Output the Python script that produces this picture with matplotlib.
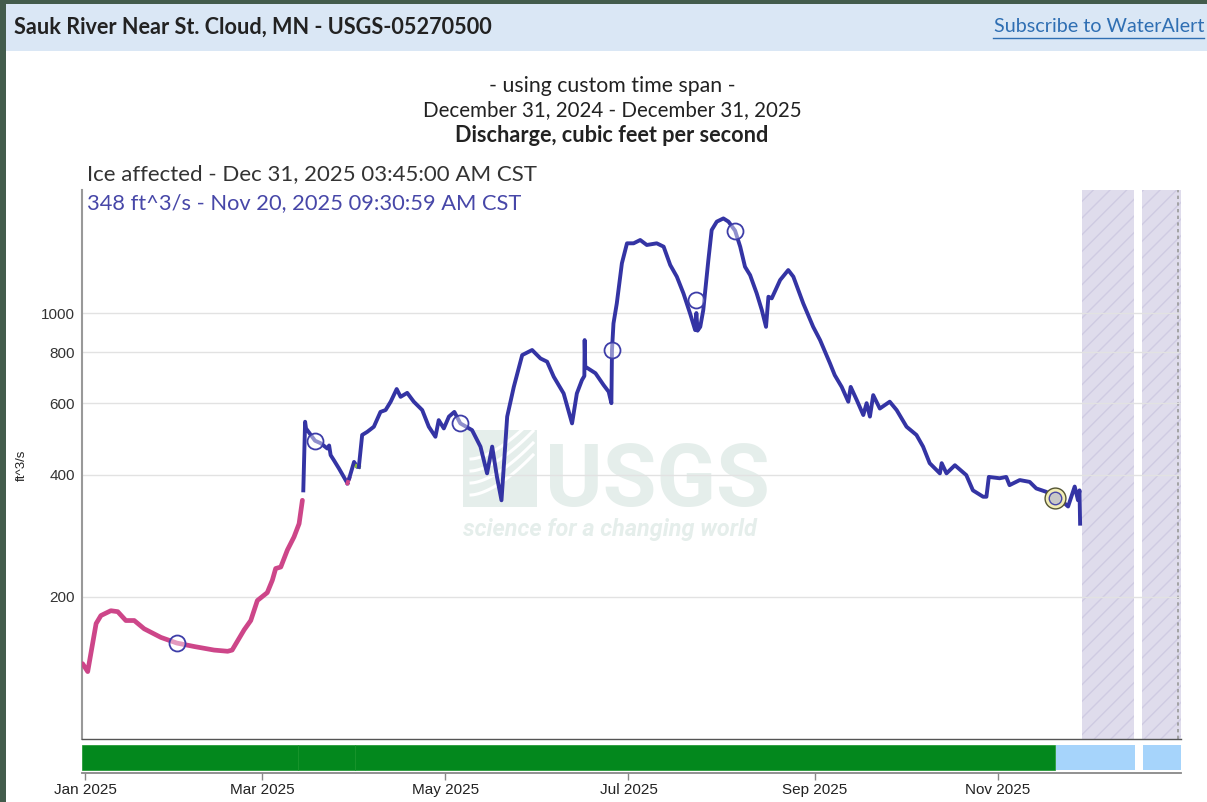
import numpy as np
import pandas as pd
import matplotlib
matplotlib.use("Agg")
import matplotlib.pyplot as plt
from matplotlib import font_manager
from matplotlib.patches import Rectangle
from matplotlib.lines import Line2D
from matplotlib.ticker import FixedLocator, NullLocator, FuncFormatter

# ---- data (days since 2025-01-01, discharge in ft^3/s) ----
ice_day = [-0.8, 0.9, 3.7, 5.3, 8.6, 10.9, 13.6, 16.4, 19.7, 25.3, 30.6, 36.4, 43.0,
           47.5, 49.0, 53.0, 55.2, 57.4, 60.7, 62.4, 63.5, 65.2, 67.4, 69.6, 71.3, 72.4]
ice_cfs = [137, 131, 172, 180, 185, 184, 175, 175, 167, 159, 154, 151, 148,
           147, 148, 166, 175, 196, 205, 220, 235, 237, 261, 281, 303, 346]

flow_day_a = [72.7, 73.3, 73.6, 76.6, 78.5, 80.7, 81.3, 81.8, 82.9, 84.6, 87.4]
flow_cfs_a = [366, 540, 520, 485, 478, 464, 472, 447, 434, 414, 381]

ice2_day = [87.4, 88.0]
ice2_cfs = [381, 392]

flow_day_b = [88.0, 89.6, 90.5]
flow_cfs_b = [392, 430, 420]

est_day = [90.5, 91.2]
est_cfs = [420, 418]

flow_day_c = [91.2, 92.3, 94.0, 96.2, 98.4, 100.1, 101.8, 103.8, 105.1, 107.3, 109.5,
              112.3, 114.5, 116.7, 117.8, 119.5, 121.2, 123.0, 125.0, 128.9, 131.7,
              133.9, 135.6, 137.2, 138.7, 140.6, 142.8, 145.6, 148.9, 151.7, 153.9,
              156.1, 159.4, 162.2, 163.8, 165.5, 166.3, 166.4, 166.6, 170.0, 172.7,
              174.4, 175.3, 175.5, 176.0, 177.1, 178.8, 180.5, 182.7, 184.9, 187.1,
              190.4, 192.7, 194.9, 197.1, 199.3, 201.5, 203.2, 203.6, 204.0, 204.9,
              205.9, 207.6, 208.7, 210.4, 212.6, 214.3, 216.5, 218.2, 219.8, 221.5,
              223.7, 225.4, 226.8, 227.6, 228.7, 231.5, 234.2, 235.9, 239.2, 242.5,
              244.8, 248.1, 249.7, 252.0, 254.2, 255.0, 257.0, 259.2, 260.3, 261.4,
              262.5, 264.7, 268.0, 270.3, 273.6, 276.9, 279.1, 281.3, 284.7, 285.3,
              286.9, 289.7, 293.5, 295.7, 299.1, 300.2, 301.0, 304.6, 306.8, 307.9,
              311.3, 314.6, 316.8, 320.1, 322.9, 325.1, 327.4, 329.6, 330.7, 331.2,
              331.4]
flow_cfs_c = [418, 501, 510, 525, 571, 577, 605, 650, 622, 636, 605,
              577, 525, 496, 545, 520, 556, 571, 535, 515, 469,
              403, 469, 395, 346, 556, 658, 788, 811, 773, 759,
              697, 634, 535, 634, 684, 700, 858, 738, 711, 665,
              640, 600, 811, 943, 1056, 1326, 1485, 1485, 1513, 1471,
              1485, 1457, 1313, 1229, 1118, 998, 908, 1000, 905, 925,
              1017, 1351, 1601, 1679, 1710, 1679, 1595, 1457, 1300, 1240,
              1118, 1017, 925, 1097, 1087, 1206, 1276, 1229, 1056, 925,
              858, 752, 703, 658, 605, 658, 611, 561, 600, 556,
              628, 582, 605, 577, 525, 501, 469, 427, 403, 427,
              403, 422, 399, 366, 353, 353, 395, 392, 395, 377,
              388, 384, 370, 363, 350, 346, 334, 374, 346, 366,
              303]

marker_day = [30.6, 76.6, 125.0, 175.5, 203.4, 216.5]
marker_cfs = [154, 485, 535, 811, 1076, 1595]
latest_day = [322.9]
latest_cfs = [350]

# periods (start, end) for shading and the status bar
no_data_spans = [("2025-11-28 22:00", "2025-12-16 12:00"), ("2025-12-19 00:00", "2026-01-01 00:00")]
approved_spans = [("2024-12-31", "2025-03-13"), ("2025-03-13", "2025-04-01"), ("2025-04-01", "2025-11-20")]
provisional_spans = [("2025-11-20 12:00", "2025-12-16 16:00"), ("2025-12-19 06:00", "2026-01-01 00:00")]
month_ticks = ["2025-01-01", "2025-03-01", "2025-05-01", "2025-07-01", "2025-09-01", "2025-11-01"]
month_labels = ["Jan 2025", "Mar 2025", "May 2025", "Jul 2025", "Sep 2025", "Nov 2025"]
y_ticks = [200, 400, 600, 800, 1000]

base = pd.Timestamp("2025-01-01")
def to_dates(days):
    return base + pd.to_timedelta(np.array(days), unit="D")

W, H = 1207, 802
def fx(px):
    return px / W
def fy(py):
    return 1 - py / H

names = {f.name for f in font_manager.fontManager.ttflist}
ui_font = "Lato" if "Lato" in names else "DejaVu Sans"
ax_font = "Liberation Sans" if "Liberation Sans" in names else "DejaVu Sans"
wm_font = next((n for n in ["Liberation Sans Narrow", "DejaVu Sans Condensed", "Roboto"] if n in names), "DejaVu Sans")

BLUE = "#3434a4"
PINK = "#cd4689"

fig = plt.figure(figsize=(W / 100, H / 100), dpi=100, facecolor="#435c4c")
fig.patches.append(Rectangle((fx(6), 0), 1 - fx(6), fy(4), transform=fig.transFigure,
                             facecolor="white", edgecolor="none", zorder=-10))
fig.patches.append(Rectangle((fx(6), fy(51)), 1 - fx(6), (51 - 4) / H, transform=fig.transFigure,
                             facecolor="#dae7f5", edgecolor="none", zorder=-9))

fig.text(fx(14), fy(27), "Sauk River Near St. Cloud, MN - USGS-05270500", family=ui_font,
         fontsize=15.6, fontweight="bold", color="#222222", ha="left", va="center")
fig.text(fx(1204), fy(27), "Subscribe to WaterAlert", family=ui_font, fontsize=14.2,
         color="#2f6fb3", ha="right", va="center")
fig.add_artist(Line2D([fx(993), fx(1204)], [fy(38), fy(38)], color="#2f6fb3", lw=1))

fig.text(fx(612), fy(86), "- using custom time span -", family=ui_font, fontsize=15.3,
         color="#222222", ha="center", va="center")
fig.text(fx(612), fy(110), "December 31, 2024 - December 31, 2025", family=ui_font, fontsize=14.8,
         color="#222222", ha="center", va="center")
fig.text(fx(612), fy(136), "Discharge, cubic feet per second", family=ui_font, fontsize=15.6,
         fontweight="bold", color="#222222", ha="center", va="center")
fig.text(fx(87), fy(174), "Ice affected - Dec 31, 2025 03:45:00 AM CST", family=ui_font,
         fontsize=16.0, color="#333333", ha="left", va="center")
fig.text(fx(87), fy(203), "348 ft^3/s - Nov 20, 2025 09:30:59 AM CST", family=ui_font,
         fontsize=15.75, color="#4747a8", ha="left", va="center")
fig.text(fx(22), fy(465), "ft^3/s", family=ax_font, fontsize=9.5, color="#222222",
         rotation=90, ha="center", va="center")

# ---- main axes ----
xmin, xmax = pd.Timestamp("2024-12-31"), pd.Timestamp("2026-01-01")
ax = fig.add_axes([fx(82), fy(739), (1181 - 82) / W, (739 - 190) / H])
ax.set_yscale("log")
ax.set_ylim(89.4, 2009)
ax.set_xlim(xmin, xmax)
ax.yaxis.set_major_locator(FixedLocator(y_ticks))
ax.yaxis.set_minor_locator(NullLocator())
ax.yaxis.set_major_formatter(FuncFormatter(lambda v, p: f"{v:.0f}"))
ax.xaxis.set_major_locator(NullLocator())
ax.xaxis.set_minor_locator(NullLocator())
ax.tick_params(axis="y", length=0, pad=5, labelsize=11, labelcolor="#333333")
for lab in ax.get_yticklabels():
    lab.set_family(ax_font)
ax.set_axisbelow(True)
ax.grid(axis="y", color="#e2e2e2", lw=1, zorder=0.5)
for s in ["top", "right"]:
    ax.spines[s].set_visible(False)
ax.spines["left"].set_color("#999999")
ax.spines["left"].set_linewidth(1.5)
ax.spines["bottom"].set_color("#555555")
ax.spines["bottom"].set_linewidth(1)

# watermark
wm = "#e5eeeb"
ax.add_patch(Rectangle((fx(463), fy(507)), (537 - 463) / W, (507 - 430) / H, transform=fig.transFigure,
                       facecolor=wm, edgecolor="none", zorder=0.2))
for k in range(4):
    t = np.linspace(0, 1, 30)
    xs = 463 + 8 + 62 * t
    ys = 495 - 12 * k - 40 * t ** 1.6
    ax.add_line(Line2D(fx(xs), fy(ys), transform=fig.transFigure, color="white", lw=2.2, zorder=0.25))
ax.text(fx(545), fy(506), "USGS", transform=fig.transFigure, family=wm_font, fontweight="bold",
        fontsize=63, color=wm, ha="left", va="baseline", zorder=0.2)
ax.text(fx(463), fy(536), "science for a changing world", transform=fig.transFigure, family=wm_font,
        fontweight="bold", style="italic", fontsize=16.8, color=wm, ha="left", va="baseline", zorder=0.2)

for a, b in no_data_spans:
    ax.axvspan(pd.Timestamp(a), pd.Timestamp(b), facecolor="#dfdcec", edgecolor="#cfcbe2",
               hatch="//", lw=0, zorder=0.3)
ax.axvline(pd.Timestamp("2025-12-31 03:45"), color="#999999", ls=(0, (2, 2)), lw=1.2, zorder=0.4)

lw = 2.8
ax.plot(to_dates(ice_day), ice_cfs, color=PINK, lw=lw + 0.6, solid_capstyle="round", zorder=3)
ax.plot(to_dates(flow_day_a), flow_cfs_a, color=BLUE, lw=lw, solid_joinstyle="round", zorder=3)
ax.plot(to_dates(ice2_day), ice2_cfs, color=PINK, lw=lw, zorder=3)
ax.plot(to_dates(flow_day_b), flow_cfs_b, color=BLUE, lw=lw, solid_joinstyle="round", zorder=3)
ax.plot(to_dates(est_day), est_cfs, color="#8fbf3a", lw=lw, zorder=3)
ax.plot(to_dates(flow_day_c), flow_cfs_c, color=BLUE, lw=lw, solid_joinstyle="round", zorder=3)

ax.plot(to_dates(marker_day), marker_cfs, "o", ms=11.5, mfc=(1, 1, 1, 0.45), mec="#3d3da8",
        mew=1.3, zorder=4)
ax.plot(to_dates(latest_day), latest_cfs, "o", ms=15, mfc="#f2edb5", mec="#555533", mew=1, zorder=5)
ax.plot(to_dates(latest_day), latest_cfs, "o", ms=9, mfc="#c8c8c8", mec="#4848a8", mew=1, zorder=6)

# ---- status bar with month ticks ----
bx = fig.add_axes([fx(82), fy(773), (1181 - 82) / W, 30 / H])
bx.set_xlim(xmin, xmax)
bx.set_ylim(0, 1)
for a, b in approved_spans:
    bx.axvspan(pd.Timestamp(a), pd.Timestamp(b), ymin=0.1, ymax=0.93, facecolor="#03881d",
               edgecolor="#169328", lw=0.5)
for a, b in provisional_spans:
    bx.axvspan(pd.Timestamp(a), pd.Timestamp(b), ymin=0.1, ymax=0.93, facecolor="#a6d4fb",
               edgecolor="none")
bx.set_yticks([])
for s in ["top", "right", "left"]:
    bx.spines[s].set_visible(False)
bx.spines["bottom"].set_color("#888888")
bx.spines["bottom"].set_linewidth(1.3)
bx.set_xticks(pd.to_datetime(month_ticks))
bx.set_xticklabels(month_labels, family=ax_font, fontsize=11, color="#222222")
bx.xaxis.set_minor_locator(NullLocator())
bx.tick_params(axis="x", length=5, width=1, color="#888888", pad=2.5)

fig.savefig("out.png", dpi=100, facecolor=fig.get_facecolor())
